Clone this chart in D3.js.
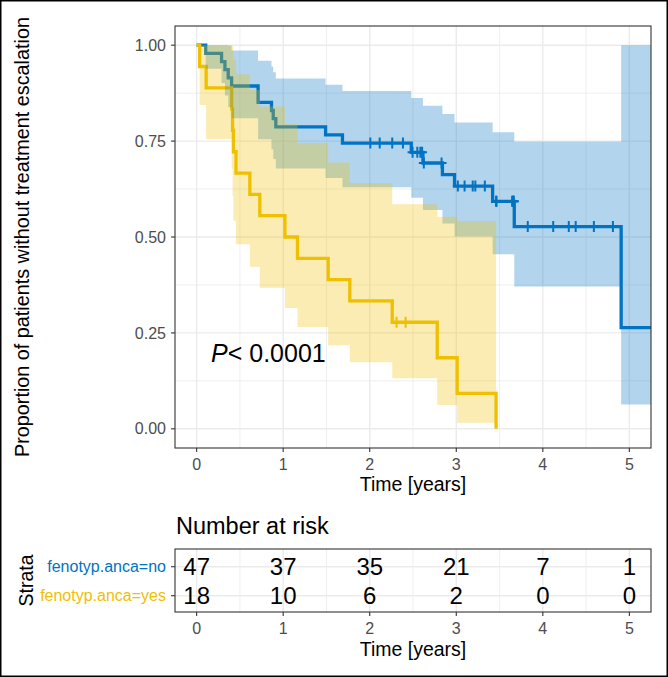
<!DOCTYPE html>
<html><head><meta charset="utf-8">
<script src="https://cdn.jsdelivr.net/npm/d3@7"></script>
<style>
body{margin:0;background:#fff}
svg{display:block}
text{font-family:"Liberation Sans",Arial,Helvetica,sans-serif}
</style>
</head><body>
<svg id="chart" width="668" height="677"></svg>
<script>
// ---------------- data ----------------
const yearTicks = [0, 1, 2, 3, 4, 5];
const survTicks = [0, 0.25, 0.5, 0.75, 1];
const strata = ["fenotyp.anca=no", "fenotyp.anca=yes"];
const pValueText = "< 0.0001";

// fenotyp.anca = no
const noTime  = [0, 0.105, 0.288, 0.327, 0.365, 0.404, 0.71, 0.865, 0.885, 0.915, 1.49, 1.685, 2.48, 2.615, 2.84, 2.98, 3.42, 3.67, 4.905, 5.40];
const noSurv  = [1, 0.9787, 0.9574, 0.9362, 0.9149, 0.8936, 0.8511, 0.8298, 0.8085, 0.7872, 0.7660, 0.7447, 0.7207, 0.6929, 0.6628, 0.6327, 0.5931, 0.5272, 0.2636, 0.2636];
const noLower = [1, 0.9383, 0.9015, 0.8688, 0.8385, 0.8097, 0.7551, 0.7290, 0.7035, 0.6785, 0.6540, 0.6299, 0.6024, 0.5701, 0.5353, 0.5015, 0.4553, 0.3711, 0.0631, 0.0631];
const noUpper = [1, 1, 1, 1, 0.9983, 0.9863, 0.9592, 0.9445, 0.9292, 0.9134, 0.8971, 0.8804, 0.8622, 0.8422, 0.8207, 0.7982, 0.7728, 0.7491, 1, 1];
const noCensor = [2.007, 2.115, 2.26, 2.384, 2.495, 2.55, 2.585, 2.605, 2.625, 2.83, 3.018, 3.096, 3.19, 3.22, 3.33, 3.46, 3.465, 3.645, 3.655, 3.66, 3.665, 3.826, 4.12, 4.30, 4.38, 4.59, 4.81];

// fenotyp.anca = yes
const yesTime  = [0, 0.035, 0.11, 0.405, 0.415, 0.425, 0.455, 0.615, 0.73, 1.02, 1.165, 1.52, 1.77, 2.26, 2.78, 3.01, 3.46];
const yesSurv  = [1, 0.9444, 0.8889, 0.8333, 0.7778, 0.7222, 0.6667, 0.6111, 0.5556, 0.5, 0.4444, 0.3889, 0.3333, 0.2778, 0.1852, 0.0926, 0];
const yesLower = [1, 0.8443, 0.7550, 0.6778, 0.6076, 0.5423, 0.4809, 0.4227, 0.3675, 0.3150, 0.2651, 0.2179, 0.1734, 0.1319, 0.0621, 0.0159, null];
const yesUpper = [1, 1, 1, 1, 0.9957, 0.9619, 0.9243, 0.8834, 0.8399, 0.7936, 0.7450, 0.6940, 0.6407, 0.5851, 0.5526, 0.5410, null];
const yesCensor = [2.31, 2.415];

// number at risk
const riskNo  = [47, 37, 35, 21, 7, 1];
const riskYes = [18, 10, 6, 2, 0, 0];

// ---------------- styles ----------------
const colNo = "#0073C2", colYes = "#EFC000";
const gridCol = "#EBEBEB", borderCol = "#333333", tickTxt = "#4D4D4D";

const svg = d3.select("#chart");

// outer frame
svg.append("rect").attr("x", 0.75).attr("y", 0.75).attr("width", 666.5).attr("height", 675.5)
  .attr("fill", "#fff").attr("stroke", "#000").attr("stroke-width", 1.5);

// ---------------- main panel ----------------
const P = {l: 175, r: 651, t: 26, b: 448};
const x = d3.scaleLinear().domain([-0.25, 5.25]).range([P.l, P.r]);
const y = d3.scaleLinear().domain([-0.05, 1.05]).range([P.b, P.t]);

svg.append("clipPath").attr("id", "clipMain").append("rect")
  .attr("x", P.l).attr("y", P.t).attr("width", P.r - P.l).attr("height", P.b - P.t);

const g = svg.append("g");
const minorX = d3.range(0.5, 5, 1);
const minorY = [0.125, 0.375, 0.625, 0.875];
g.selectAll(".mx").data(minorX).join("line")
  .attr("x1", d => x(d)).attr("x2", d => x(d)).attr("y1", P.t).attr("y2", P.b)
  .attr("stroke", gridCol).attr("stroke-width", 0.8);
g.selectAll(".my").data(minorY).join("line")
  .attr("y1", d => y(d)).attr("y2", d => y(d)).attr("x1", P.l).attr("x2", P.r)
  .attr("stroke", gridCol).attr("stroke-width", 0.8);
g.selectAll(".Mx").data(yearTicks).join("line")
  .attr("x1", d => x(d)).attr("x2", d => x(d)).attr("y1", P.t).attr("y2", P.b)
  .attr("stroke", gridCol).attr("stroke-width", 1.4);
g.selectAll(".My").data(survTicks).join("line")
  .attr("y1", d => y(d)).attr("y2", d => y(d)).attr("x1", P.l).attr("x2", P.r)
  .attr("stroke", gridCol).attr("stroke-width", 1.4);

function mk(times, surv, lo, hi) {
  return times.map((t, i) => ({t, s: surv[i], lo: lo[i], hi: hi[i]}));
}
const noData = mk(noTime, noSurv, noLower, noUpper);
const yesData = mk(yesTime, yesSurv, yesLower, yesUpper);

const line = d3.line().x(d => x(d.t)).y(d => y(d.s)).curve(d3.curveStepAfter);
const area = d3.area().x(d => x(d.t)).y0(d => y(d.lo)).y1(d => y(d.hi)).curve(d3.curveStepAfter);

function ribbonData(data) {
  const def = data.filter(d => d.lo !== null);
  const last = data[data.length - 1];
  if (last.lo === null) {
    const prev = def[def.length - 1];
    def.push({t: last.t, s: prev.s, lo: prev.lo, hi: prev.hi});
  }
  return def;
}

const plot = svg.append("g").attr("clip-path", "url(#clipMain)");
// curves
plot.append("path").attr("d", line(noData)).attr("fill", "none").attr("stroke", colNo).attr("stroke-width", 3.3);
plot.append("path").attr("d", line(yesData)).attr("fill", "none").attr("stroke", colYes).attr("stroke-width", 3.3);
// confidence ribbons
plot.append("path").attr("d", area(ribbonData(noData))).attr("fill", colNo).attr("fill-opacity", 0.3);
plot.append("path").attr("d", area(ribbonData(yesData))).attr("fill", colYes).attr("fill-opacity", 0.3);

// censor marks
function survAt(times, surv, t) {
  const i = d3.bisectRight(times, t) - 1;
  return surv[Math.max(0, i)];
}
function censors(ct, times, surv, col) {
  plot.selectAll(null).data(ct).join("path")
    .attr("d", d => {
      const cx = x(d), cy = y(survAt(times, surv, d));
      return `M${cx - 5},${cy}H${cx + 5}M${cx},${cy - 5.5}V${cy + 5.5}`;
    })
    .attr("stroke", col).attr("stroke-width", 2).attr("fill", "none");
}
censors(noCensor, noTime, noSurv, colNo);
censors(yesCensor, yesTime, yesSurv, colYes);

// panel border
svg.append("rect").attr("x", P.l).attr("y", P.t).attr("width", P.r - P.l).attr("height", P.b - P.t)
  .attr("fill", "none").attr("stroke", borderCol).attr("stroke-width", 1.1);

// axes
const yAxis = svg.append("g");
yAxis.selectAll("line").data(survTicks).join("line")
  .attr("x1", P.l - 4).attr("x2", P.l).attr("y1", d => y(d)).attr("y2", d => y(d))
  .attr("stroke", borderCol).attr("stroke-width", 1.1);
yAxis.selectAll("text").data(survTicks).join("text")
  .attr("x", P.l - 9).attr("y", d => y(d)).attr("dy", "0.35em")
  .attr("text-anchor", "end").attr("font-size", 16).attr("fill", tickTxt)
  .text(d => d3.format(".2f")(d));

const xAxis = svg.append("g");
xAxis.selectAll("line").data(yearTicks).join("line")
  .attr("x1", d => x(d)).attr("x2", d => x(d)).attr("y1", P.b).attr("y2", P.b + 4)
  .attr("stroke", borderCol).attr("stroke-width", 1.1);
xAxis.selectAll("text").data(yearTicks).join("text")
  .attr("x", d => x(d)).attr("y", P.b + 21.5)
  .attr("text-anchor", "middle").attr("font-size", 16).attr("fill", tickTxt)
  .text(d => d);

svg.append("text").attr("x", (P.l + P.r) / 2).attr("y", 491)
  .attr("text-anchor", "middle").attr("font-size", 19.5).attr("fill", "#000").text("Time [years]");
svg.append("text").attr("transform", `translate(29,${(P.t + P.b) / 2}) rotate(-90)`)
  .attr("text-anchor", "middle").attr("font-size", 19.8).attr("fill", "#000")
  .text("Proportion of patients without treatment escalation");

// p-value
const pv = svg.append("text").attr("x", 211).attr("y", 362).attr("font-size", 25).attr("fill", "#000");
pv.append("tspan").attr("font-style", "italic").text("P");
pv.append("tspan").text(pValueText);

// ---------------- risk table ----------------
const R = {l: 175, r: 651, t: 549, b: 612};
const yr = d3.scalePoint().domain(strata).range([566.7, 595.7]);
const colors = {[strata[0]]: colNo, [strata[1]]: colYes};

svg.append("text").attr("x", 176).attr("y", 533.5).attr("font-size", 23.5).attr("fill", "#000").text("Number at risk");

const rt = svg.append("g");
rt.selectAll(".rmx").data(minorX).join("line")
  .attr("x1", d => x(d)).attr("x2", d => x(d)).attr("y1", R.t).attr("y2", R.b)
  .attr("stroke", gridCol).attr("stroke-width", 0.8);
rt.selectAll(".rMx").data(yearTicks).join("line")
  .attr("x1", d => x(d)).attr("x2", d => x(d)).attr("y1", R.t).attr("y2", R.b)
  .attr("stroke", gridCol).attr("stroke-width", 1.4);
rt.selectAll(".rMy").data(strata).join("line")
  .attr("y1", d => yr(d)).attr("y2", d => yr(d)).attr("x1", R.l).attr("x2", R.r)
  .attr("stroke", gridCol).attr("stroke-width", 1.4);

const riskRows = [{k: strata[0], v: riskNo}, {k: strata[1], v: riskYes}];
riskRows.forEach(row => {
  rt.selectAll(null).data(row.v).join("text")
    .attr("x", (d, i) => x(yearTicks[i])).attr("y", yr(row.k)).attr("dy", "0.36em")
    .attr("text-anchor", "middle").attr("font-size", 24).attr("fill", "#000")
    .text(d => d);
});

rt.append("rect").attr("x", R.l).attr("y", R.t).attr("width", R.r - R.l).attr("height", R.b - R.t)
  .attr("fill", "none").attr("stroke", borderCol).attr("stroke-width", 1.1);

rt.selectAll(".ryt").data(strata).join("line")
  .attr("x1", R.l - 4).attr("x2", R.l).attr("y1", d => yr(d)).attr("y2", d => yr(d))
  .attr("stroke", borderCol).attr("stroke-width", 1.1);
rt.selectAll(".ryl").data(strata).join("text")
  .attr("x", R.l - 9).attr("y", d => yr(d)).attr("dy", "0.35em")
  .attr("text-anchor", "end").attr("font-size", 16).attr("fill", d => colors[d])
  .text(d => d);

rt.selectAll(".rxt").data(yearTicks).join("line")
  .attr("x1", d => x(d)).attr("x2", d => x(d)).attr("y1", R.b).attr("y2", R.b + 4)
  .attr("stroke", borderCol).attr("stroke-width", 1.1);
rt.selectAll(".rxl").data(yearTicks).join("text")
  .attr("x", d => x(d)).attr("y", R.b + 21.5)
  .attr("text-anchor", "middle").attr("font-size", 16).attr("fill", tickTxt)
  .text(d => d);

svg.append("text").attr("x", (R.l + R.r) / 2).attr("y", 656)
  .attr("text-anchor", "middle").attr("font-size", 19.5).attr("fill", "#000").text("Time [years]");
svg.append("text").attr("transform", `translate(32.5,${(R.t + R.b) / 2}) rotate(-90)`)
  .attr("text-anchor", "middle").attr("font-size", 19.5).attr("fill", "#000").text("Strata");
</script>
</body></html>
